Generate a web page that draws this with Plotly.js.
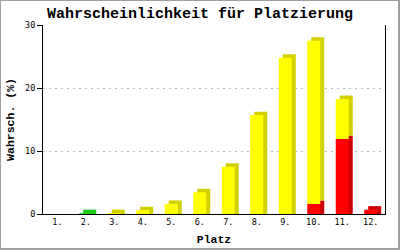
<!DOCTYPE html>
<html>
<head>
<meta charset="utf-8">
<script src="https://cdn.plot.ly/plotly-3.0.1.min.js"></script>
<style>
  html, body { margin: 0; padding: 0; background: #ffffff; }
  #wrap { position: relative; width: 400px; height: 250px; }
  #chart { width: 400px; height: 250px; }
  #frame { position: absolute; left: 0; top: 0; width: 400px; height: 250px; box-sizing: border-box;
           border-left: 1px solid #a0a0a0; border-top: 1px solid #a0a0a0;
           border-right: 2px solid #a0a0a0; border-bottom: 2px solid #a0a0a0; pointer-events: none; }
</style>
</head>
<body>
<div id="wrap"><div id="chart"></div><div id="frame"></div></div>
<script>
// ---- data ----
const categories = ["1.", "2.", "3.", "4.", "5.", "6.", "7.", "8.", "9.", "10.", "11.", "12."];
const redValues    = [0, 0,    0,    0,   0,   0,   0,   0,    0,    1.6,  11.9, 0.7];
const yellowValues = [0, 0,    0.15, 0.6, 1.6, 3.45,7.5, 15.7, 24.8, 25.9, 6.35, 0];
const greenValues  = [0, 0.15, 0,    0,   0,   0,   0,   0,    0,    0,    0,    0];
const yTicks = [0, 10, 20, 30];

// ---- styling ----
const depthY = 0.55;   // 3D depth in y units (~3.5px)
const depthX = 0.14;   // 3D depth in category units (~4px)
const barW = 0.456;
const segs = [
  {vals: redValues,    front: "#ff0000", side: "#cc0000"},
  {vals: yellowValues, front: "#ffff00", side: "#d2d000"},
  {vals: greenValues,  front: "#22dd22", side: "#1ecc1e"}
];

const shadowTraces = [], frontTraces = [];
const cum = categories.map(() => 0);
segs.forEach(s => {
  const base = cum.slice();
  const sBase = [], sH = [];
  s.vals.forEach((v, i) => {
    if (v > 0) {
      const b = base[i] === 0 ? 0 : base[i] + depthY;
      sBase.push(b); sH.push(base[i] + v + depthY - b);
    } else { sBase.push(0); sH.push(null); }
  });
  shadowTraces.push({type: "bar", x: categories, y: sH, base: sBase, width: barW,
    offset: -barW / 2 + depthX, marker: {color: s.side, line: {width: 0}}, hoverinfo: "skip"});
  frontTraces.push({type: "bar", x: categories, y: s.vals.map(v => v > 0 ? v : null), base: base,
    width: barW, offset: -barW / 2, marker: {color: s.front, line: {width: 0}}, hoverinfo: "skip"});
  s.vals.forEach((v, i) => cum[i] += v);
});

const layout = {
  width: 400, height: 250,
  margin: {l: 43, r: 15, t: 25, b: 36, pad: 0},
  paper_bgcolor: "#ffffff", plot_bgcolor: "#ffffff",
  barmode: "overlay", showlegend: false,
  title: {text: "<b>Wahrscheinlichkeit für Platzierung</b>", x: 0.5, xref: "container",
          y: 1 - 12.5 / 250, yref: "container", yanchor: "middle",
          font: {family: "Liberation Mono", size: 15, color: "#000"}},
  xaxis: {type: "category", range: [-0.5, 11.5], showline: true, linecolor: "#000", linewidth: 1,
          ticks: "", showgrid: false, zeroline: false, fixedrange: true,
          tickfont: {family: "DejaVu Sans Mono", size: 8.5, color: "#000"},
          title: {text: "<b>Platz</b>", standoff: 8, font: {family: "Liberation Mono", size: 11.5, color: "#000"}}},
  yaxis: {range: [0, 30], tickvals: yTicks, ticktext: yTicks.map(String),
          showline: true, mirror: true, linecolor: "#000", linewidth: 1,
          ticks: "outside", ticklen: 5, tickcolor: "#000",
          showgrid: true, gridcolor: "#bbbbbb", griddash: "2px,4px", gridwidth: 1,
          zeroline: false, fixedrange: true,
          tickfont: {family: "DejaVu Sans Mono", size: 8.5, color: "#000"},
          title: {text: "<b>Wahrsch. (%)</b>", standoff: 8, font: {family: "Liberation Mono", size: 11.5, color: "#000"}}}
};

Plotly.newPlot("chart", shadowTraces.concat(frontTraces), layout, {displayModeBar: false, staticPlot: true});
</script>
</body>
</html>
